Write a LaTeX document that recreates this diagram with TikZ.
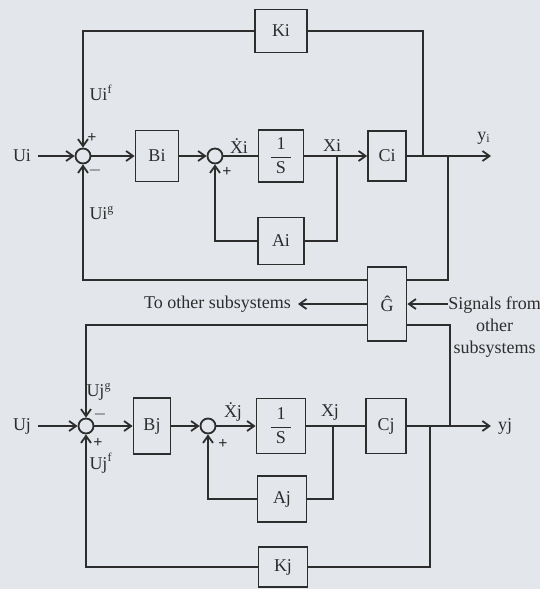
\documentclass[tikz,border=0pt]{standalone}
\usepackage{amsmath}
\usepackage{fontspec}
\setmainfont{Liberation Serif}
\usepackage{xcolor}
\usepackage{tikz}
\usetikzlibrary{arrows.meta,positioning}
\definecolor{paper}{RGB}{227,231,236}
\definecolor{ink}{RGB}{45,45,45}

\begin{document}
\begin{tikzpicture}[
  x=0.5pt,y=-0.5pt,
  every node/.style={text=ink,font=\fontsize{9}{11}\selectfont},
  block/.style={rectangle,draw=ink,line width=0.9pt,inner sep=0pt,
                minimum width=21pt,minimum height=26pt},
  sum/.style={circle,draw=ink,line width=0.9pt,minimum size=7.5pt,inner sep=0pt},
  line/.style={draw=ink,line width=0.9pt},
  arrow/.style={line,-{Straight Barb[length=3.5pt,width=5pt]}},
  sign/.style={inner sep=0pt,font=\fontsize{8}{9}\selectfont\bfseries}
]
\fill[paper] (0,0) rectangle (540,589);
\useasboundingbox (0,0) rectangle (540,589);

% subsystem i
\node (ui) at (22,156) {Ui};
\node[sum] (sumi) at (83,156) {};
\node[block,minimum width=21.5pt,minimum height=25.5pt] (bi) at (157,156) {Bi};
\node[sum] (sumxi) at (215,156) {};
\node[block,minimum width=22.5pt] (inti) at (281,156) {$\dfrac{\text{1}}{\mkern5mu\text{S}\mkern5mu}$};
\node[block,minimum width=19pt,minimum height=25pt] (ci) at (387,156) {Ci};
\node[block,minimum width=23pt,minimum height=23.5pt] (ai) at (281,241) {Ai};
\node[block,minimum width=26pt,minimum height=21.5pt] (ki) at (281,31) {Ki};
\node (yi) at (484,138) {y\textsubscript{i}};
\coordinate (yiend) at (491,156);
\coordinate (tapxi) at (337,156);
\coordinate (tapki) at (423,156);
\coordinate (tapgi) at (448,156);

% interconnection
\node[block,minimum width=19.5pt,minimum height=37pt] (g) at (387,304) {\^{G}};
\node[anchor=east] (toother) at (298,304) {To other subsystems};
\node[align=center,anchor=north west,inner sep=0pt] (from) at (448,296)
  {Signals from\\other\\subsystems};

% subsystem j
\node (uj) at (22,426) {Uj};
\node[sum] (sumj) at (86,426) {};
\node[block,minimum width=18.5pt,minimum height=28pt] (bj) at (152,426) {Bj};
\node[sum] (sumxj) at (208,426) {};
\node[block,minimum width=24.5pt,minimum height=27.5pt] (intj) at (281,426) {$\dfrac{\text{1}}{\mkern5mu\text{S}\mkern5mu}$};
\node[block,minimum width=20pt,minimum height=27.5pt] (cj) at (386,426) {Cj};
\node[block,minimum width=24.5pt,minimum height=23pt] (aj) at (282,499) {Aj};
\node[block,minimum width=24.5pt,minimum height=20pt] (kj) at (283,567) {Kj};
\node (yj) at (505,426) {yj};
\coordinate (tapxj) at (333,426);
\coordinate (tapkj) at (430,426);
\coordinate (tapgj) at (450,426);

% signs and signal names
\node[sign] at (92,138) {+};
\node[sign] at (95,170) {$-$};
\node[sign] at (227,172) {+};
\node[sign] at (100,414) {$-$};
\node[sign] at (98,443) {+};
\node[sign] at (223,444) {+};
\node at (101,93) {Ui\textsuperscript{f}};
\node at (102,213) {Ui\textsuperscript{g}};
\node at (99,392) {Uj\textsuperscript{g}};
\node at (101,463) {Uj\textsuperscript{f}};
\node at (239,146) {\.{X}i};
\node at (332,146) {Xi};
\node at (233,412) {\.{X}j};
\node at (330,412) {Xj};

% forward paths
\draw[arrow] (ui) -- (sumi);
\draw[arrow] (sumi) -- (bi);
\draw[arrow] (bi) -- (sumxi);
\draw[line] (sumxi) -- (inti);
\draw[arrow] (inti) -- (ci);
\draw[arrow] (ci) -- (yiend);
\draw[arrow] (uj) -- (sumj);
\draw[arrow] (sumj) -- (bj);
\draw[arrow] (bj) -- (sumxj);
\draw[arrow] (sumxj) -- (intj);
\draw[line] (intj) -- (cj);
\draw[arrow] (cj) -- (yj);

% feedback loops
\draw[line] (tapxi) |- (ai);
\draw[arrow] (ai) -| (sumxi);
\draw[line] (tapki) |- (ki);
\draw[arrow] (ki) -| (sumi);
\draw[line] (tapgi) |- ([yshift=12pt]g.east);
\draw[arrow] ([yshift=12pt]g.west) -| (sumi);
\draw[line] (tapxj) |- (aj);
\draw[arrow] (aj) -| (sumxj);
\draw[line] (tapkj) |- (kj);
\draw[arrow] (kj) -| (sumj);
\draw[line] (tapgj) |- ([yshift=-10.5pt]g.east);
\draw[arrow] ([yshift=-10.5pt]g.west) -| (sumj);
\draw[arrow] (g) -- (toother);
\draw[arrow] (from.west |- g.east) -- (g);
\end{tikzpicture}
\end{document}
